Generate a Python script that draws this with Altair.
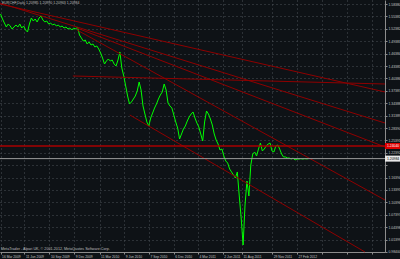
import altair as alt
import pandas as pd

HEADER = "EURCHF,Daily  1.20985 1.20990 1.20963 1.20984"
FOOTER = "MetaTrader - Alpari UK, \u00a9 2001-2012, MetaQuotes Software Corp."

# weekly closes, first one on 16 Mar 2009
week_start = "2009-03-16"
week_close = [
    1.5598, 1.5477, 1.5380, 1.5284, 1.5356, 1.5308, 1.5235, 1.5284, 1.5332, 1.5284,
    1.5356, 1.5259, 1.5308, 1.5211, 1.5163, 1.5356, 1.5501, 1.5429, 1.5477, 1.5405,
    1.5501, 1.5550, 1.5453, 1.5405, 1.5429, 1.5356, 1.5380, 1.5332, 1.5356, 1.5308,
    1.5332, 1.5284, 1.5308, 1.5259, 1.5284, 1.5235, 1.5259, 1.5211, 1.5259, 1.5235,
    1.5284, 1.5090, 1.5017, 1.4945, 1.4969, 1.4872, 1.4921, 1.4848, 1.4872, 1.4800,
    1.4824, 1.4751, 1.4654, 1.4533, 1.4388, 1.4461, 1.4509, 1.4461, 1.4485, 1.4388,
    1.4340, 1.4485, 1.4679, 1.4291, 1.4098, 1.3856, 1.3614, 1.3420, 1.3469, 1.3541,
    1.3614, 1.3735, 1.3953, 1.3759, 1.3372, 1.3178, 1.2985, 1.2888, 1.3081, 1.3202,
    1.3323, 1.3420, 1.3541, 1.3638, 1.3711, 1.3904, 1.3759, 1.3444, 1.3372, 1.3323,
    1.3154, 1.2985, 1.2839, 1.2573, 1.2694, 1.2815, 1.2888, 1.3009, 1.3106, 1.3178,
    1.3227, 1.3081, 1.2960, 1.2864, 1.2694, 1.2525, 1.2985, 1.3251, 1.3178, 1.3057,
    1.2912, 1.2694, 1.2549, 1.2452, 1.2307, 1.2331, 1.2162, 1.2041, 1.1992, 1.1847,
    1.1775, 1.1702, 1.1629, 1.1775, 1.1194, 1.0661, 1.0008, 1.0976, 1.1557, 1.1194,
    1.1944, 1.2210, 1.2259, 1.2162, 1.2331, 1.2476, 1.2283, 1.2331, 1.2404, 1.2452,
    1.2476, 1.2283, 1.2259, 1.2404, 1.2428, 1.2331, 1.2210, 1.2138, 1.2138, 1.2113,
    1.2113, 1.2089, 1.2113, 1.2065, 1.2089, 1.2089, 1.2098, 1.2089, 1.2098, 1.2092,
    1.2098,
]

date_labels = ["2009-03-16", "2009-06-11", "2009-09-10", "2009-12-09", "2010-03-11",
               "2010-06-09", "2010-09-07", "2010-12-06", "2011-03-04", "2011-06-02",
               "2011-08-11", "2011-11-29", "2012-02-27"]
date_grid_only = ["2012-05-28", "2012-08-27", "2012-11-26"]

price_labels = [0.98400, 1.01399, 1.04398, 1.07397, 1.10396, 1.13395, 1.16394,
                1.19393, 1.22392, 1.25391, 1.28390, 1.31389, 1.34388, 1.37387,
                1.40386, 1.43385, 1.46384, 1.49383, 1.52382, 1.55381, 1.58380]

# trend lines (start / end)
line_from_date = ["2009-03-14", "2009-03-14", "2009-12-19", "2009-12-19", "2010-06-29", "2009-12-04"]
line_from_price = [1.5840, 1.5864, 1.5259, 1.5211, 1.3154, 1.4098]
line_to_date = ["2013-01-12", "2013-01-12", "2013-01-12", "2013-01-12", "2012-10-31", "2013-01-12"]
line_to_price = [1.3711, 1.2960, 1.2380, 1.1097, 0.9840, 1.3904]

level_price = 1.24040
last_price = 1.20984
view_start = "2009-03-14"
view_end = "2013-01-12"
price_low, price_high = 0.98386, 1.59370


def dt(s):
    y, m, d = map(int, s.split("-"))
    return alt.DateTime(year=y, month=m, date=d)


BG = "#0e1216"
GRID = "#4a5056"
AXIS_TXT = "#c4c4c4"
FONT = "Liberation Sans"

xs = alt.Scale(domain=[dt(view_start), dt(view_end)])
ys = alt.Scale(domain=[price_low, price_high], zero=False, nice=False)

x_axis = alt.Axis(
    values=[dt(s) for s in date_labels + date_grid_only],
    labelExpr="datum.value > datetime(2012, 2, 15) ? '' : timeFormat(datum.value, '%-d %b %Y')",
    orient="bottom", grid=True, gridColor=GRID, gridDash=[1, 3], gridWidth=1,
    tickSize=2, tickColor="#8c8c8c", domainColor="#8c8c8c",
    labelFontSize=3.3, labelFont=FONT, labelColor=AXIS_TXT, labelAlign="left",
    labelBaseline="top", labelOffset=1, labelPadding=0.5,
    labelOverlap=False, labelFlush=False, title=None,
)
y_axis = alt.Axis(
    values=price_labels,
    labelExpr=f"(datum.value < {last_price} && {last_price} - datum.value < 0.02) ? '' : format(datum.value, '.5f')",
    orient="right", grid=True, gridColor=GRID, gridDash=[1, 3], gridWidth=1,
    tickSize=2, tickColor="#8c8c8c", domainColor="#8c8c8c",
    labelFontSize=3.4, labelFont=FONT, labelColor=AXIS_TXT, labelAlign="left",
    labelBaseline="middle", labelPadding=1,
    labelOverlap=False, labelFlush=False, title=None,
)

df_close = pd.DataFrame({
    "date": pd.date_range(week_start, periods=len(week_close), freq="7D"),
    "price": week_close,
})
df_lines = pd.DataFrame({
    "from_date": line_from_date, "from_price": line_from_price,
    "to_date": line_to_date, "to_price": line_to_price,
})

price_line = alt.Chart(df_close).mark_line(color="#00ff00", strokeWidth=1).encode(
    x=alt.X("date:T", scale=xs, axis=x_axis),
    y=alt.Y("price:Q", scale=ys, axis=y_axis),
)

trend = alt.Chart(df_lines).mark_rule(color="#8e0000", strokeWidth=1).encode(
    x=alt.X("from_date:T", scale=xs, axis=x_axis),
    x2="to_date:T",
    y=alt.Y("from_price:Q", scale=ys, axis=y_axis),
    y2="to_price:Q",
)

level = alt.Chart(pd.DataFrame({"price": [level_price]})).mark_rule(
    color="#a80000", strokeWidth=1.5
).encode(y=alt.Y("price:Q", scale=ys, axis=y_axis))

last_line = alt.Chart(pd.DataFrame({"price": [last_price]})).mark_rule(
    color="#9c9c9c", strokeWidth=1
).encode(y=alt.Y("price:Q", scale=ys, axis=y_axis))

level_tag = pd.DataFrame({"price": [level_price], "label": [f"{level_price:.5f}"]})
last_tag = pd.DataFrame({"price": [last_price], "label": [f"{last_price:.5f}"]})

level_box = alt.Chart(level_tag).mark_tick(color="#dd0000", size=15, thickness=6, opacity=1).encode(
    x=alt.value(392.5), y=alt.Y("price:Q", scale=ys, axis=y_axis))
level_txt = alt.Chart(level_tag).mark_text(
    align="left", baseline="middle", fontSize=3.4, font=FONT, color="#ffffff"
).encode(x=alt.value(387), y=alt.Y("price:Q", scale=ys, axis=y_axis), text="label:N")

last_box = alt.Chart(last_tag).mark_tick(color="#e8e8e8", size=15, thickness=6, opacity=1).encode(
    x=alt.value(392.5), y=alt.Y("price:Q", scale=ys, axis=y_axis))
last_txt = alt.Chart(last_tag).mark_text(
    align="left", baseline="middle", fontSize=3.4, font=FONT, color="#000000"
).encode(x=alt.value(387), y=alt.Y("price:Q", scale=ys, axis=y_axis), text="label:N")

header = alt.Chart(pd.DataFrame({"t": [HEADER]})).mark_text(
    align="left", baseline="top", fontSize=3.5, font=FONT, color="#bdbdbd"
).encode(x=alt.value(2), y=alt.value(1), text="t:N")

footer = alt.Chart(pd.DataFrame({"t": [FOOTER]})).mark_text(
    align="left", baseline="top", fontSize=3.7, font=FONT, color="#bdbdbd"
).encode(x=alt.value(1), y=alt.value(246.5), text="t:N")

chart = alt.layer(
    price_line, trend, level, last_line, level_box, level_txt, last_box, last_txt, header, footer
).properties(
    width=385, height=252,
    padding={"left": 0, "top": 0, "right": 15, "bottom": 7},
    autosize=alt.AutoSizeParams(type="none"),
    background=BG,
).configure_view(stroke=None)

chart.save("out.html", embed_options={"renderer": "svg", "actions": False})
